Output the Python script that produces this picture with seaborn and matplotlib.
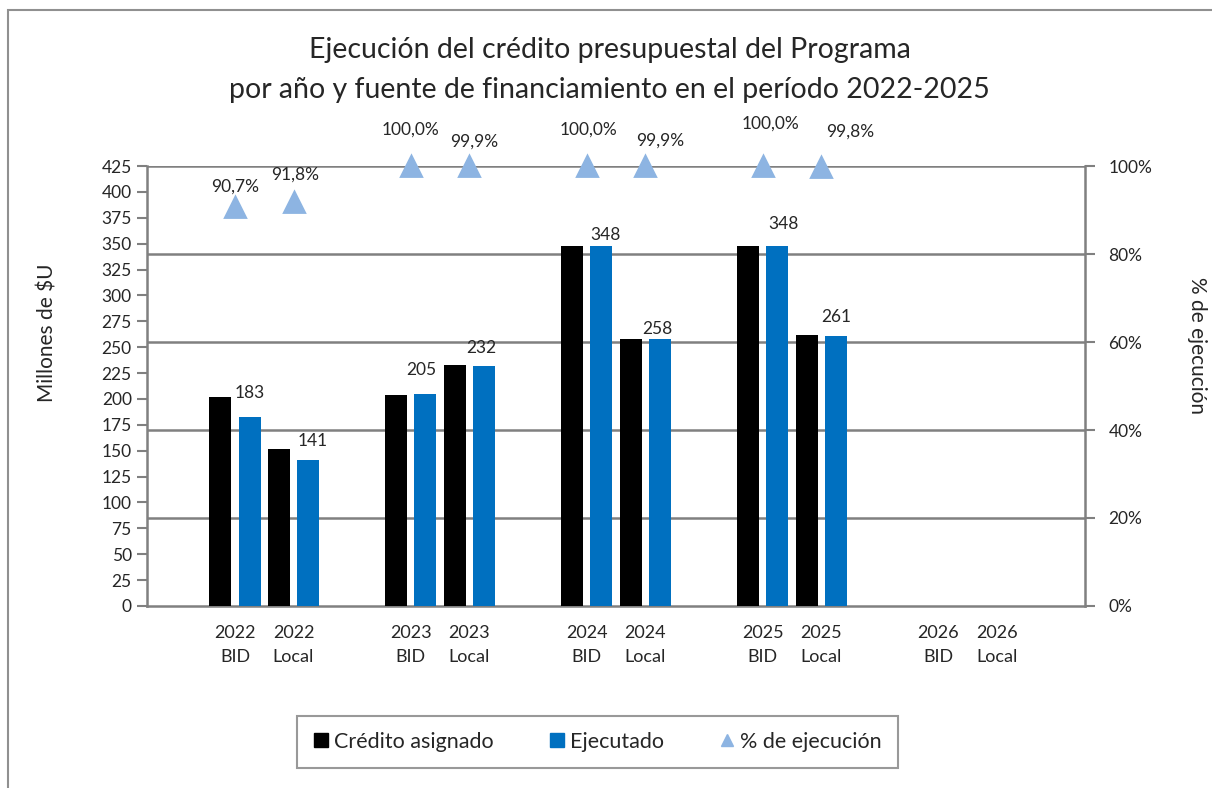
import matplotlib
matplotlib.use("Agg")
import matplotlib.pyplot as plt
import seaborn as sns
import pandas as pd
from matplotlib.lines import Line2D
from matplotlib.patches import Rectangle

# ---------------- data ----------------
categories = ["2022\nBID", "2022\nLocal", "2023\nBID", "2023\nLocal",
              "2024\nBID", "2024\nLocal", "2025\nBID", "2025\nLocal"]
empty_categories = ["2026\nBID", "2026\nLocal"]
credito_asignado = [202, 152, 204, 233, 348, 258, 348, 262]
ejecutado = [183, 141, 205, 232, 348, 258, 348, 261]
pct_ejecucion = [90.7, 91.8, 100.0, 99.9, 100.0, 99.9, 100.0, 99.8]
left_ticks = list(range(0, 426, 25))
right_ticks = [0, 20, 40, 60, 80, 100]
series_names = ["Crédito asignado", "Ejecutado", "% de ejecución"]
title = "Ejecución del crédito presupuestal del Programa\npor año y fuente de financiamiento en el período 2022-2025"

# ---------------- styling ----------------
sns.set_style("white")
plt.rcParams["font.family"] = ["Lato", "DejaVu Sans"]
TXT = "#262626"
GRID = "#808080"
BLACK = "#000000"
BLUE = "#0070C0"
TRI = "#8DB4E2"

# label offsets in pixels (dx, dy)
ejec_label_off = [(0, 24), (4, 19), (-4, 24), (-3, 18), (4, 11), (-3, 10), (6, 22), (0, 19)]
pct_label_off = [(0, 20), (2, 27), (0, 36), (5, 25), (2, 36), (15, 26), (8, 42), (29, 35)]

# slot order with empty spacer slots between the year pairs
pairs = [categories[i:i + 2] for i in range(0, len(categories), 2)] + [empty_categories]
order = []
for k, p in enumerate(pairs):
    order.append(" " * (k + 1))
    order.extend(p)
order.append(" " * (len(pairs) + 1))

df = pd.DataFrame({
    "cat": categories * 2,
    "serie": [series_names[0]] * len(categories) + [series_names[1]] * len(categories),
    "valor": credito_asignado + ejecutado,
})
dfp = pd.DataFrame({"cat": categories, "pct": pct_ejecucion})

fig = plt.figure(figsize=(12.12, 7.88), dpi=100)
ax = fig.add_axes([147 / 1212, 1 - 606 / 788, (1085 - 147) / 1212, (606 - 166) / 788])

sns.barplot(data=df, x="cat", y="valor", hue="serie", order=order,
            hue_order=series_names[:2], palette={series_names[0]: BLACK, series_names[1]: BLUE},
            width=1.0, gap=0.25, saturation=1, linewidth=0, legend=False, ax=ax, zorder=3)

ax.set_ylim(0, 425)
ax.set_xlim(-0.5, len(order) - 0.5)

# gridlines matching the right-axis ticks
for t in right_ticks[1:]:
    ax.axhline(t / 100 * 425, color=GRID, lw=1.8, zorder=1)

# data labels for Ejecutado
ejec_bars = ax.containers[1]
for bar, v, (dx, dy) in zip(ejec_bars, ejecutado, ejec_label_off):
    ax.annotate(f"{v:.0f}", (bar.get_x() + bar.get_width() / 2, bar.get_height()),
                xytext=(dx, dy), textcoords="offset pixels", ha="center", va="center",
                fontsize=12.5, color=TXT, zorder=5)

ax2 = ax.twinx()
sns.pointplot(data=dfp, x="cat", y="pct", order=order, color=TRI, marker="^",
              linestyle="none", markersize=14, markeredgecolor=TRI, errorbar=None, ax=ax2)
ax2.set_ylim(0, 100)
ax.set_xlim(-0.5, len(order) - 0.5)
for ln in ax2.lines:
    ln.set_clip_on(False)
for coll in ax2.collections:
    coll.set_clip_on(False)

xpos = {c: order.index(c) for c in categories}
for c, v, (dx, dy) in zip(categories, pct_ejecucion, pct_label_off):
    ax2.annotate(f"{v:.1f}%".replace(".", ","), (xpos[c], v), xytext=(dx, dy),
                 textcoords="offset pixels", ha="center", va="center",
                 fontsize=12.5, color=TXT, annotation_clip=False)

# axes styling
for a in (ax, ax2):
    for s in a.spines.values():
        s.set_visible(False)
ax.spines["left"].set_visible(True)
ax.spines["bottom"].set_visible(True)
ax2.spines["right"].set_visible(True)
for s in (ax.spines["left"], ax.spines["bottom"], ax2.spines["right"]):
    s.set_color(GRID)
    s.set_linewidth(1.8)

ax.set_yticks(left_ticks)
ax.set_yticklabels([str(t) for t in left_ticks])
ax.tick_params(axis="y", direction="out", length=7, width=1.5, color=GRID,
               labelsize=12.5, labelcolor=TXT, pad=4, left=True)
ax.set_xticks(range(len(order)))
ax.set_xticklabels(order, linespacing=1.6)
ax.tick_params(axis="x", length=0, labelsize=13, labelcolor=TXT, pad=14)
ax2.set_yticks(right_ticks)
ax2.set_yticklabels([f"{t}%" for t in right_ticks])
ax2.tick_params(axis="y", direction="out", length=7, width=1.5, color=GRID,
                labelsize=12.5, labelcolor=TXT, pad=10, right=True)

ax.set_xlabel("")
ax2.set_xlabel("")
ax.set_ylabel(r"Millones de \$U", fontsize=15, color=TXT, va="center")
ax.yaxis.set_label_coords(-0.106, 0.62)
ax2.set_ylabel("% de ejecución", fontsize=15, color=TXT, rotation=270, va="center")
ax2.yaxis.set_label_coords(1.119, 0.593)

fig.text(0.503, 1 - 37 / 788, title, ha="center", va="top", fontsize=20.5,
         color=TXT, linespacing=1.68)

handles = [
    Line2D([], [], marker="s", color=BLACK, linestyle="none", markersize=10),
    Line2D([], [], marker="s", color=BLUE, linestyle="none", markersize=10),
    Line2D([], [], marker="^", color=TRI, linestyle="none", markersize=9),
]
leg = fig.legend(handles, series_names, loc="center", bbox_to_anchor=(597.5 / 1212, 1 - 742 / 788),
                 ncol=3, frameon=True, fancybox=False, fontsize=15.5, handlelength=0.7,
                 handletextpad=0.25, columnspacing=2.6, borderpad=0.75,
                 edgecolor=GRID, labelcolor=TXT)
leg.get_frame().set_linewidth(1.5)

fig.patches.append(Rectangle((8 / 1212, -0.1), 1.5, 1 - 10 / 788 + 0.1, transform=fig.transFigure,
                             fill=False, edgecolor="#909090", lw=1.5))

fig.savefig("out.png", dpi=100, facecolor="white")
